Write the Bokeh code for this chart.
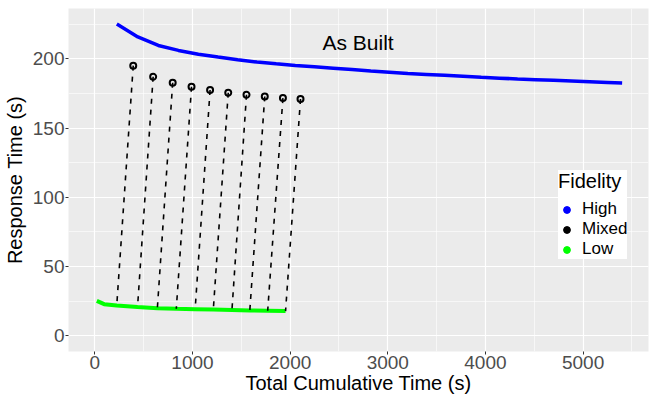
from bokeh.plotting import figure
from bokeh.models import (Range1d, SingleIntervalTicker, Legend, LegendItem,
                          ColumnDataSource, Label)
from bokeh.embed import file_html
from bokeh.resources import INLINE

# ---- data ----
high_x = [225, 440, 650, 856, 1060, 1262, 1462, 1660, 1857, 2053, 2248, 2442,
          2634, 2826, 3016, 3205, 3394, 3582, 3770, 3957, 4143, 4329, 4514,
          4699, 4883, 5067, 5250, 5400]
high_y = [225.0, 215.7, 209.6, 206.0, 203.3, 201.2, 199.3, 197.6, 196.3, 195.2,
          194.2, 193.2, 192.2, 191.2, 190.3, 189.4, 188.7, 188.0, 187.3, 186.6,
          186.0, 185.4, 184.9, 184.4, 183.9, 183.4, 182.9, 182.5]

low_x = [20, 95, 224, 437, 640, 834, 1027, 1213, 1404, 1587, 1770, 1953]
low_y = [25.3, 22.9, 21.9, 20.8, 20.0, 19.6, 19.3, 19.0, 18.7, 18.4, 18.2, 17.9]

mixed_x = [393, 597, 797, 990, 1180, 1366, 1553, 1740, 1926, 2106]
mixed_y = [195.0, 187.0, 182.7, 179.8, 177.4, 175.5, 174.0, 172.8, 171.6, 170.9]
# the low-fidelity run each mixed run started from
mixed_from_x = low_x[2:]
mixed_from_y = low_y[2:]

fidelity_labels = ["High", "Mixed", "Low"]
fidelity_colors = ["#0000FF", "#000000", "#00FF00"]

FONT = "Liberation Sans"

p = figure(width=651, height=397, output_backend="svg", toolbar_location=None,
           x_range=Range1d(-270, 5670), y_range=Range1d(-11.25, 236.25),
           min_border_left=65, min_border_top=8, min_border_right=3,
           min_border_bottom=46)
p.background_fill_color = "#EBEBEB"
p.border_fill_color = "white"
p.outline_line_color = None

xt = SingleIntervalTicker(interval=1000, num_minor_ticks=2)
yt = SingleIntervalTicker(interval=50, num_minor_ticks=2)
p.xaxis.ticker = xt
p.yaxis.ticker = yt
p.xgrid.ticker = xt
p.ygrid.ticker = yt

for ax in (p.xaxis, p.yaxis):
    ax.axis_line_color = None
    ax.major_tick_line_color = "#333333"
    ax.major_tick_line_width = 1
    ax.major_tick_out = 3
    ax.major_tick_in = 0
    ax.minor_tick_out = 0
    ax.minor_tick_in = 0
    ax.major_label_text_font = FONT
    ax.major_label_text_font_size = "19px"
    ax.major_label_text_color = "#4D4D4D"
    ax.major_label_standoff = 1
    ax.axis_label_text_font = FONT
    ax.axis_label_text_font_size = "20px"
    ax.axis_label_text_font_style = "normal"
    ax.axis_label_text_color = "black"
    ax.axis_label_standoff = 0

p.xaxis.axis_label = "Total Cumulative Time (s)"
p.yaxis.axis_label = "Response Time (s)"
p.yaxis.axis_label_standoff = 4

for g in (p.xgrid, p.ygrid):
    g.grid_line_color = "white"
    g.grid_line_width = 1.2
    g.minor_grid_line_color = "white"
    g.minor_grid_line_width = 0.6

p.line(high_x, high_y, line_color=fidelity_colors[0], line_width=3.5)
p.line(low_x, low_y, line_color=fidelity_colors[2], line_width=4)
p.segment(mixed_x, mixed_y, mixed_from_x, mixed_from_y, line_color="black",
          line_width=1.6, line_dash="5 6")
p.scatter(mixed_x, mixed_y, size=6, fill_color=None, line_color="black",
          line_width=2)

p.add_layout(Label(x=2696, y=211.6, text="As Built", text_align="center",
                   text_baseline="middle", text_font=FONT,
                   text_font_size="21px", text_color="black"))

items = []
for lab, col in zip(fidelity_labels, fidelity_colors):
    src = ColumnDataSource(data=dict(x=[float("nan")], y=[float("nan")]))
    r = p.scatter(x="x", y="y", source=src, size=8, fill_color=col,
                  line_color=col)
    items.append(LegendItem(label=lab, renderers=[r]))

legend = Legend(items=items, location=(490, 92), title="Fidelity",
                background_fill_color="white", background_fill_alpha=1,
                border_line_color=None,
                title_text_font=FONT, title_text_font_size="20px",
                title_text_font_style="normal", title_standoff=6,
                title_text_color="black",
                label_text_font=FONT, label_text_font_size="17px",
                label_text_color="black",
                glyph_width=17, glyph_height=17, label_height=17,
                spacing=-3, padding=3, margin=0, label_standoff=7)
p.add_layout(legend)

open("out.html", "w").write(file_html(p, INLINE))
